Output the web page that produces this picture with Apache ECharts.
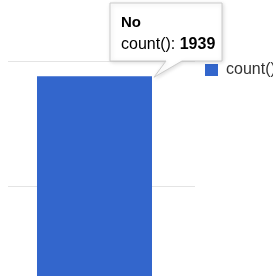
<!DOCTYPE html>
<html>
<head>
<meta charset="utf-8">
<script src="https://cdn.jsdelivr.net/npm/echarts@6/dist/echarts.min.js"></script>
<style>
html,body{margin:0;padding:0;background:#fff;overflow:hidden;}
#chart{width:273px;height:276px;}
</style>
</head>
<body>
<div id="chart"></div>
<script>
var categories = ['No'];
var seriesName = 'count()';
var counts = [1939];
var yTicks = [0, 500, 1000, 1500, 2000];

var chart = echarts.init(document.getElementById('chart'), null, {renderer: 'canvas'});
var font = '"Liberation Sans", Arial, sans-serif';
var hidden = {axisLine: {show: false}, axisTick: {show: false}, axisLabel: {show: false}};
chart.setOption({
  animation: false,
  grid: [
    {left: 1, right: 85, top: 61, bottom: -285, containLabel: false, outerBoundsMode: 'none'},
    {left: 8, right: 78, top: 61, bottom: -285, containLabel: false, outerBoundsMode: 'none'}
  ],
  legend: {
    data: [seriesName], left: 200, top: 57, itemWidth: 13, itemHeight: 12, itemGap: 6,
    icon: 'rect',
    textStyle: {fontFamily: font, fontSize: 16, color: '#333', padding: [0, 0, 0, 3]}
  },
  xAxis: [
    Object.assign({type: 'category', data: categories, gridIndex: 0}, hidden),
    Object.assign({type: 'category', data: categories, gridIndex: 1}, hidden)
  ],
  yAxis: [
    Object.assign({type: 'value', gridIndex: 0, min: yTicks[0], max: yTicks[yTicks.length - 1], interval: 500,
      splitLine: {show: false}}, hidden),
    Object.assign({type: 'value', gridIndex: 1, min: yTicks[0], max: yTicks[yTicks.length - 1], interval: 500,
      splitLine: {lineStyle: {color: '#e4e4e4', width: 1}}}, hidden)
  ],
  series: [{
    name: seriesName, type: 'bar', data: counts, barWidth: '61.5%',
    xAxisIndex: 0, yAxisIndex: 0, z: 3,
    itemStyle: {color: '#3366cc'}
  }]
});

// tooltip callout anchored to the bar's top-right corner
var topPt = chart.convertToPixel({seriesIndex: 0}, [0, counts[0]]);
var gridRect = chart.getModel().getComponent('grid', 0).coordinateSystem.getRect();
var barW = gridRect.width * 0.615;
var tipX = topPt[0] + barW / 2, tipY = topPt[1];
var bx = 110, by = 3, bw = 112, bh = 58;
chart.setOption({
  graphic: [
    {
      type: 'polygon', z: 100,
      shape: {points: [[bx, by], [bx + bw, by], [bx + bw, by + bh], [tipX + 30, by + bh], [tipX + 2, tipY + 1], [tipX + 14, by + bh], [bx, by + bh]]},
      style: {fill: '#fff', stroke: '#cccccc', lineWidth: 1, shadowBlur: 4, shadowColor: 'rgba(0,0,0,0.15)', shadowOffsetX: 1, shadowOffsetY: 1}
    },
    {
      type: 'text', z: 101, left: bx + 11, top: by + 12,
      style: {text: categories[0], font: 'bold 15px ' + font, fill: '#000'}
    },
    {
      type: 'text', z: 101, left: bx + 11, top: by + 34,
      style: {
        text: '{a|' + seriesName + ': }{b|' + counts[0] + '}',
        rich: {
          a: {fontSize: 16, fontFamily: font, color: '#333'},
          b: {fontWeight: 'bold', fontSize: 16, fontFamily: font, color: '#000'}
        }
      }
    }
  ]
});
</script>
</body>
</html>
